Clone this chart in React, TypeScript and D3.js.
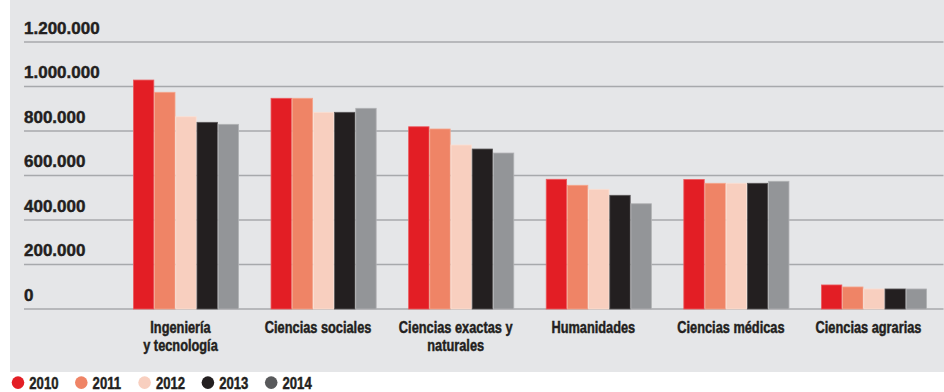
import React from "react";
import * as d3 from "d3";

const categories: string[][] = [
  ["Ingeniería", "y tecnología"],
  ["Ciencias sociales"],
  ["Ciencias exactas y", "naturales"],
  ["Humanidades"],
  ["Ciencias médicas"],
  ["Ciencias agrarias"],
];
const years = ["2010", "2011", "2012", "2013", "2014"];
const values2010 = [1029000, 947000, 819000, 583000, 582000, 108000];
const values2011 = [974000, 947000, 809000, 556000, 565000, 99000];
const values2012 = [864000, 884000, 737000, 538000, 565000, 90000];
const values2013 = [839000, 884000, 719000, 511000, 565000, 90000];
const values2014 = [830000, 902000, 701000, 473000, 574000, 90000];
const series = [values2010, values2011, values2012, values2013, values2014];
const yTicks = [0, 200000, 400000, 600000, 800000, 1000000, 1200000];

const barColors = ["#e31e25", "#ef8466", "#f8cfbf", "#231f20", "#939598"];
const legendColors = ["#e31e25", "#ef8466", "#f8cfbf", "#231f20", "#58595b"];
const outlineColors = ["#ec5a5e", "#f5a58c", "#fbe0d4", "#5a5758", "#b1b2b4"];

const W = 944;
const H = 392;
const FONT = "'Liberation Sans', Arial, sans-serif";
const NARROW = 0.82;
const INK = "#231f20";

export default function App() {
  const y = d3.scaleLinear().domain([0, 1200000]).range([309, 42]);
  const x0 = d3
    .scaleBand<number>()
    .domain(d3.range(categories.length))
    .range([117.2, 942.8])
    .paddingInner(0.23)
    .paddingOuter(0.115);
  const x1 = d3
    .scaleBand<number>()
    .domain(d3.range(years.length))
    .range([0, x0.bandwidth()]);
  const fmt = (v: number) => d3.format(",")(v).replace(/,/g, ".");

  return (
    <svg
      width={W}
      height={H}
      style={{ position: "absolute", left: 0, top: 0, display: "block" }}
    >
      <rect x={10} y={0} width={W - 10} height={372} fill="#e5e6e8" />
      {yTicks.map((t) => (
        <g key={t}>
          <line
            x1={24}
            x2={943.5}
            y1={y(t)}
            y2={y(t)}
            stroke="#a7a9ac"
            strokeWidth={1.5}
          />
          <text
            x={24}
            y={y(t) - 8.5}
            fontFamily={FONT}
            fontWeight="bold"
            fontSize={17}
            fill={INK}
            stroke={INK}
            strokeWidth={0.45}
          >
            {fmt(t)}
          </text>
        </g>
      ))}
      {categories.map((c, ci) => (
        <g key={ci} transform={`translate(${x0(ci)},0)`}>
          {series.map((s, si) => (
            <rect
              key={si}
              x={x1(si)! + 0.4}
              y={y(s[ci])}
              width={x1.bandwidth() - 0.8}
              height={y(0) - y(s[ci])}
              fill={barColors[si]}
              stroke={outlineColors[si]}
              strokeWidth={0.8}
            />
          ))}
          <g
            transform={`translate(${x0.bandwidth() / 2 - 5.5},333.3) scale(${NARROW},1)`}
          >
            <text
              x={0}
              y={0}
              textAnchor="middle"
              fontFamily={FONT}
              fontWeight="bold"
              fontSize={15.6}
              fill={INK}
              stroke={INK}
              strokeWidth={0.45}
            >
              {c.map((line, li) => (
                <tspan key={li} x={0} dy={li === 0 ? 0 : 18}>
                  {line}
                </tspan>
              ))}
            </text>
          </g>
        </g>
      ))}
      {years.map((yr, i) => {
        const cx = 18 + i * 63.3;
        return (
          <g key={yr}>
            <circle cx={cx} cy={382.6} r={6.3} fill={legendColors[i]} />
            <g transform={`translate(${cx + 11.3},389) scale(${NARROW},1)`}>
              <text
                x={0}
                y={0}
                fontFamily={FONT}
                fontWeight="bold"
                fontSize={16}
                fill={INK}
                stroke={INK}
                strokeWidth={0.45}
              >
                {yr}
              </text>
            </g>
          </g>
        );
      })}
    </svg>
  );
}
